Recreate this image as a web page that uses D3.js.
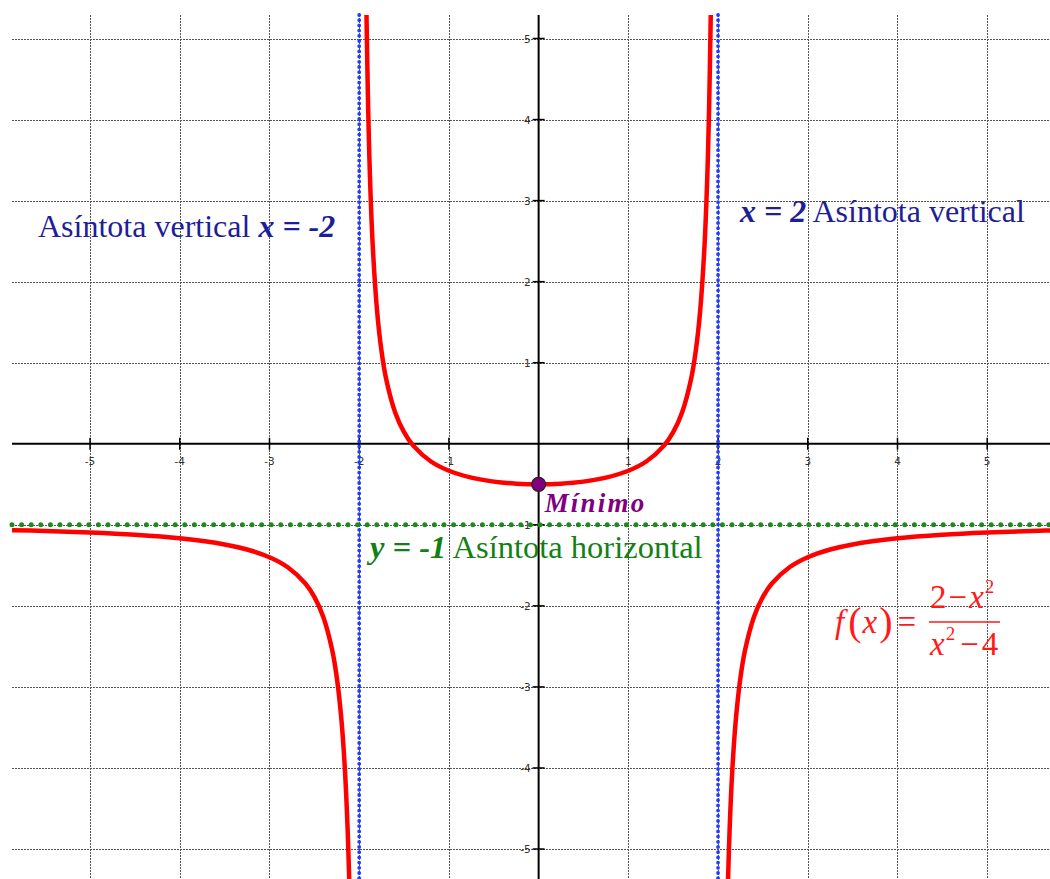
<!DOCTYPE html>
<html>
<head>
<meta charset="utf-8">
<script src="https://cdn.jsdelivr.net/npm/d3@7"></script>
<style>
  body { margin: 0; background: #fff; }
  svg { display: block; }
</style>
</head>
<body>
<div id="chart"></div>
<script>
// Tick values on both axes
const xTicks = [-5, -4, -3, -2, -1, 1, 2, 3, 4, 5];
const yTicks = [-5, -4, -3, -2, -1, 1, 2, 3, 4, 5];

const leftX  = [-5.9, -5.5, -5, -4.5, -4, -3.5, -3.25, -3, -2.8, -2.6, -2.5, -2.4, -2.3, -2.25, -2.2, -2.16, -2.13, -2.11];
const leftY  = [-1.065, -1.076, -1.095, -1.123, -1.167, -1.242, -1.305, -1.4, -1.521, -1.725, -1.889, -2.136, -2.55, -2.882, -3.381, -4.005, -4.725, -5.424];
const midX   = [-1.92, -1.9, -1.88, -1.85, -1.8, -1.75, -1.7, -1.6, -1.5, -1.4, -1.2, -1, -0.75, -0.5, -0.25, 0,
                0.25, 0.5, 0.75, 1, 1.2, 1.4, 1.5, 1.6, 1.7, 1.75, 1.8, 1.85, 1.88, 1.9, 1.92];
const midY   = [5.378, 4.128, 3.296, 2.463, 1.632, 1.133, 0.802, 0.389, 0.143, -0.02, -0.219, -0.333, -0.418, -0.467, -0.492, -0.5,
                -0.492, -0.467, -0.418, -0.333, -0.219, -0.02, 0.143, 0.389, 0.802, 1.133, 1.632, 2.463, 3.296, 4.128, 5.378];
const rightX = [2.11, 2.13, 2.16, 2.2, 2.25, 2.3, 2.4, 2.5, 2.6, 2.8, 3, 3.25, 3.5, 4, 4.5, 5, 5.5, 5.9];
const rightY = [-5.424, -4.725, -4.005, -3.381, -2.882, -2.55, -2.136, -1.889, -1.725, -1.521, -1.4, -1.305, -1.242, -1.167, -1.123, -1.095, -1.076, -1.065];

// Asymptotes and the minimum
const vAsym = [-2, 2];
const hAsym = [-1];
const minPoint = [0, -0.5];

const width = 1050, height = 879;
const plot = { left: 12, right: 1050, top: 15, bottom: 879 };

const x = d3.scaleLinear().domain([-5.87, 5.7]).range([plot.left, plot.right]);
const y = d3.scaleLinear().domain([5.29, -5.37]).range([plot.top, plot.bottom]);

const svg = d3.select("#chart").append("svg")
  .attr("width", width)
  .attr("height", height);

svg.append("defs").append("clipPath").attr("id", "clip")
  .append("rect")
  .attr("x", plot.left).attr("y", plot.top)
  .attr("width", plot.right - plot.left).attr("height", plot.bottom - plot.top);

// grid
const grid = svg.append("g").attr("stroke", "#555").attr("stroke-width", 1).attr("stroke-dasharray", "2,1");
grid.selectAll(".gx").data(xTicks).enter().append("line")
  .attr("x1", d => Math.round(x(d)) + 0.5).attr("x2", d => Math.round(x(d)) + 0.5)
  .attr("y1", plot.top).attr("y2", plot.bottom);
grid.selectAll(".gy").data(yTicks).enter().append("line")
  .attr("y1", d => Math.round(y(d)) + 0.5).attr("y2", d => Math.round(y(d)) + 0.5)
  .attr("x1", plot.left).attr("x2", plot.right);

// axes
const axes = svg.append("g").attr("stroke", "#000").attr("stroke-width", 2);
axes.append("line").attr("x1", plot.left).attr("x2", plot.right).attr("y1", y(0)).attr("y2", y(0));
axes.append("line").attr("x1", x(0)).attr("x2", x(0)).attr("y1", plot.top).attr("y2", plot.bottom);
axes.selectAll(".tx").data(xTicks).enter().append("line")
  .attr("stroke-width", 1.5)
  .attr("x1", d => x(d)).attr("x2", d => x(d)).attr("y1", y(0) - 6).attr("y2", y(0) + 6);
axes.selectAll(".ty").data(yTicks).enter().append("line")
  .attr("stroke-width", 1.5)
  .attr("y1", d => y(d)).attr("y2", d => y(d)).attr("x1", x(0) - 6).attr("x2", x(0) + 6);

// tick labels
const tl = svg.append("g").attr("font-family", "DejaVu Sans, sans-serif").attr("font-size", 10.5).attr("fill", "#333");
tl.selectAll(".lx").data(xTicks).enter().append("text")
  .attr("x", d => x(d)).attr("y", y(0) + 21).attr("text-anchor", "middle")
  .text(d => d);
tl.selectAll(".ly").data(yTicks).enter().append("text")
  .attr("x", x(0) - 8).attr("y", d => y(d) + 4).attr("text-anchor", "end")
  .text(d => d);

// asymptotes
svg.selectAll(".va").data(vAsym).enter().append("line")
  .attr("x1", d => x(d)).attr("x2", d => x(d)).attr("y1", plot.top).attr("y2", plot.bottom)
  .attr("stroke", "#1f3cff").attr("stroke-width", 3.8).attr("stroke-linecap", "round")
  .attr("stroke-dasharray", "0,5.2");
svg.selectAll(".ha").data(hAsym).enter().append("line")
  .attr("y1", d => y(d)).attr("y2", d => y(d)).attr("x1", plot.left).attr("x2", plot.right)
  .attr("stroke", "#1d8a1d").attr("stroke-width", 5).attr("stroke-linecap", "round")
  .attr("stroke-dasharray", "0,9.6");

// curve branches
const line = d3.line().x(d => x(d[0])).y(d => y(d[1])).curve(d3.curveCatmullRom.alpha(0.5));
const branches = [d3.zip(leftX, leftY), d3.zip(midX, midY), d3.zip(rightX, rightY)];
svg.append("g").attr("clip-path", "url(#clip)")
  .selectAll("path").data(branches).enter().append("path")
  .attr("d", line)
  .attr("fill", "none").attr("stroke", "#ff0000").attr("stroke-width", 4.5).attr("stroke-linejoin", "round");

// minimum
svg.append("circle")
  .attr("cx", x(minPoint[0])).attr("cy", y(minPoint[1])).attr("r", 7)
  .attr("fill", "#800080").attr("stroke", "#222").attr("stroke-width", 1.2);

const serif = "Liberation Serif, Times New Roman, serif";

svg.append("text")
  .attr("x", x(minPoint[0]) + 6).attr("y", y(minPoint[1]) + 28)
  .attr("font-family", serif).attr("font-size", 27).attr("font-weight", "bold").attr("font-style", "italic")
  .attr("letter-spacing", 2.2).attr("fill", "#800080")
  .text("Mínimo");

// asymptote labels
const navy = "#1e1e96";
const t1 = svg.append("text").attr("x", 38).attr("y", 237)
  .attr("font-family", serif).attr("font-size", 32).attr("fill", navy);
t1.append("tspan").text("Asíntota vertical ");
t1.append("tspan").attr("font-weight", "bold").attr("font-style", "italic").text("x = -2");

const t2 = svg.append("text").attr("x", 740).attr("y", 222)
  .attr("font-family", serif).attr("font-size", 32).attr("fill", navy);
t2.append("tspan").attr("font-weight", "bold").attr("font-style", "italic").text("x = 2");
t2.append("tspan").text(" Asíntota vertical");

const t3 = svg.append("text").attr("x", 370).attr("y", 558)
  .attr("font-family", serif).attr("font-size", 32.5).attr("fill", "#138013");
t3.append("tspan").attr("font-weight", "bold").attr("font-style", "italic").text("y = -1");
t3.append("tspan").text(" Asíntota horizontal");

// formula
const red = "#ff1a1a";
const f = svg.append("g").attr("font-family", serif).attr("fill", red);
f.append("text").attr("x", 835).attr("y", 633).attr("font-size", 33)
  .html('<tspan font-style="italic">f</tspan><tspan font-size="40" dy="2" dx="4">(</tspan><tspan font-style="italic" dy="-2" dx="1">x</tspan><tspan font-size="40" dy="2" dx="2">)</tspan><tspan dy="-2" dx="5">=</tspan>');
f.append("text").attr("x", 930).attr("y", 608).attr("font-size", 33)
  .html('2<tspan dx="2">−</tspan><tspan font-style="italic" dx="2">x</tspan><tspan font-size="19" dy="-15" dx="1">2</tspan>');
f.append("line").attr("x1", 929).attr("x2", 1000).attr("y1", 622).attr("y2", 622)
  .attr("stroke", red).attr("stroke-width", 1.5);
f.append("text").attr("x", 930).attr("y", 655).attr("font-size", 33)
  .html('<tspan font-style="italic">x</tspan><tspan font-size="19" dy="-15" dx="1">2</tspan><tspan dy="15" dx="5">−</tspan><tspan dx="3">4</tspan>');
</script>
</body>
</html>
